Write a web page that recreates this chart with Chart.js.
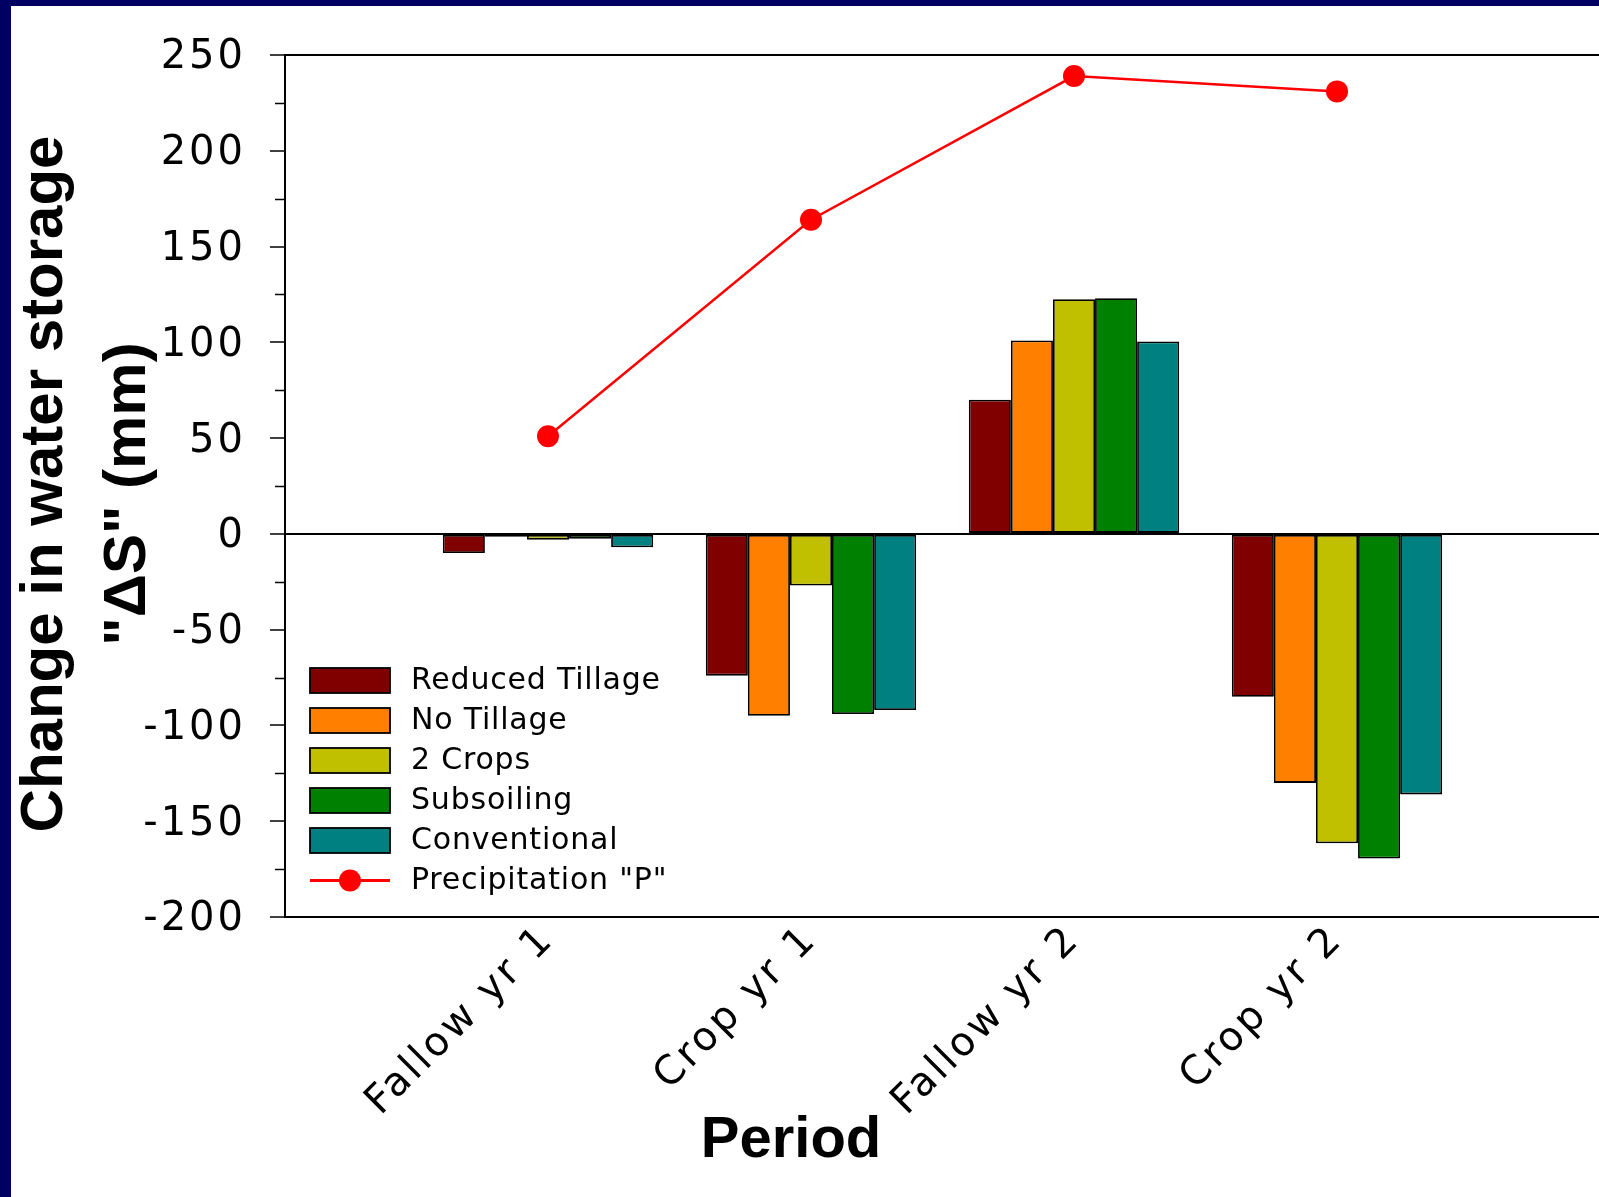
<!DOCTYPE html>
<html>
<head>
<meta charset="utf-8">
<script src="https://cdn.jsdelivr.net/npm/chart.js@4.4.0/dist/chart.umd.min.js"></script>
<style>
html,body{margin:0;padding:0;width:1599px;height:1197px;overflow:hidden;background:#000062;}
#panel{position:absolute;left:11px;top:6px;width:1588px;height:1191px;background:#ffffff;overflow:hidden;}
#wrap{position:absolute;left:0;top:0;width:1620px;height:1191px;}
</style>
</head>
<body>
<div id="panel"><div id="wrap"><canvas id="c"></canvas></div></div>
<script>
// ---- data ----
const categories = ['Fallow yr 1', 'Crop yr 1', 'Fallow yr 2', 'Crop yr 2'];
const reducedTillage = [-10, -74, 70, -85];
const noTillage = [-1.5, -95, 101, -130];
const twoCrops = [-3, -27, 122.5, -161.5];
const subsoiling = [-2.5, -94, 123, -169.5];
const conventional = [-7, -92, 100.5, -136];
const precipitation = [51, 164, 239, 231];
const yTicks = [-200, -150, -100, -50, 0, 50, 100, 150, 200, 250];
const seriesNames = ['Reduced Tillage', 'No Tillage', '2 Crops', 'Subsoiling', 'Conventional'];
const lineName = 'Precipitation "P"';
const yTitle = ['Change in water storage', '"\u0394S" (mm)'];
const xTitle = 'Period';

// ---- styles ----
const FONT = '"Liberation Sans", Arial, Helvetica, sans-serif';
const TICKFONT = '"DejaVu Sans", "Liberation Sans", Arial, sans-serif';
const seriesColors = ['#800000', '#FF8000', '#C0C000', '#008000', '#008080'];
const lineColor = '#FF0000';

const pad = a => [null, ...a, null];
const labels = ['', ...categories, ''];
const seriesValues = [reducedTillage, noTillage, twoCrops, subsoiling, conventional];

const datasets = seriesValues.map((v, i) => ({
  type: 'bar',
  label: seriesNames[i],
  data: pad(v),
  backgroundColor: seriesColors[i],
  borderColor: '#000000',
  borderWidth: 1.8,
  borderSkipped: false,
  categoryPercentage: 0.8,
  barPercentage: 1.0,
  order: 1
}));
datasets.push({
  type: 'line',
  label: lineName,
  data: pad(precipitation),
  borderColor: lineColor,
  backgroundColor: lineColor,
  borderWidth: 2.5,
  pointRadius: 11,
  pointBackgroundColor: lineColor,
  pointBorderWidth: 0,
  tension: 0,
  order: 0
});

const decor = {
  id: 'decor',
  beforeDraw(chart) {
    chart.ctx.letterSpacing = '3px';
  },
  afterDraw(chart) {
    const ctx = chart.ctx;
    const a = chart.chartArea;
    const ys = chart.scales.y;
    ctx.save();
    ctx.letterSpacing = '0px';
    // top frame line
    ctx.strokeStyle = '#000';
    ctx.lineWidth = 2;
    ctx.beginPath();
    ctx.moveTo(a.left, a.top);
    ctx.lineTo(a.right, a.top);
    ctx.stroke();
    // minor ticks
    ctx.lineWidth = 1.5;
    for (let i = 0; i < yTicks.length - 1; i++) {
      const v = (yTicks[i] + yTicks[i + 1]) / 2;
      const py = Math.round(ys.getPixelForValue(v)) + 0.5;
      ctx.beginPath();
      ctx.moveTo(a.left - 10, py);
      ctx.lineTo(a.left, py);
      ctx.stroke();
    }
    // y title
    ctx.fillStyle = '#000';
    ctx.font = 'bold 60px ' + FONT;
    ctx.textAlign = 'center';
    ctx.textBaseline = 'alphabetic';
    const cy = (a.top + a.bottom) / 2;
    ctx.save();
    ctx.translate(51, cy - 2);
    ctx.rotate(-Math.PI / 2);
    ctx.fillText(yTitle[0], 0, 0);
    ctx.restore();
    ctx.save();
    ctx.translate(134, cy + 8);
    ctx.rotate(-Math.PI / 2);
    ctx.fillText(yTitle[1], 0, 0);
    ctx.restore();
    // x title
    ctx.font = 'bold 58px ' + FONT;
    ctx.fillText(xTitle, a.left + 506, a.bottom + 240);
    // legend
    ctx.letterSpacing = '0.8px';
    ctx.font = '30px ' + TICKFONT;
    ctx.textAlign = 'left';
    ctx.textBaseline = 'middle';
    const bx = a.left + 25, bw = 80, bh = 25;
    const y0 = a.bottom - 236.5, dy = 40;
    chart.data.datasets.forEach((ds, i) => {
      const yc = y0 + i * dy;
      if (ds.type === 'bar') {
        ctx.fillStyle = ds.backgroundColor;
        ctx.fillRect(bx, yc - bh / 2, bw, bh);
        ctx.strokeStyle = '#000';
        ctx.lineWidth = 1.8;
        ctx.strokeRect(bx, yc - bh / 2, bw, bh);
      } else {
        ctx.strokeStyle = ds.borderColor;
        ctx.lineWidth = 3;
        ctx.beginPath();
        ctx.moveTo(bx, yc);
        ctx.lineTo(bx + bw, yc);
        ctx.stroke();
        ctx.fillStyle = ds.backgroundColor;
        ctx.beginPath();
        ctx.arc(bx + bw / 2, yc, 11, 0, Math.PI * 2);
        ctx.fill();
      }
      ctx.fillStyle = '#000';
      ctx.fillText(ds.label, bx + 101, yc + 1);
    });
    ctx.restore();
  }
};

new Chart(document.getElementById('c'), {
  type: 'bar',
  data: { labels, datasets },
  options: {
    responsive: true,
    maintainAspectRatio: false,
    animation: false,
    layout: { padding: { top: 49, right: 31, left: 0, bottom: 0 } },
    plugins: { legend: { display: false }, tooltip: { enabled: false } },
    scales: {
      x: {
        type: 'category',
        offset: false,
        grid: { display: false, drawTicks: false },
        border: { display: true, color: '#000', width: 2 },
        ticks: {
          autoSkip: false,
          minRotation: 45,
          maxRotation: 45,
          padding: 16,
          color: '#000',
          font: { family: TICKFONT, size: 40, lineHeight: 0.05 }
        },
        afterFit: s => { s.height = 280; }
      },
      y: {
        min: -200,
        max: 250,
        afterBuildTicks: s => { s.ticks = yTicks.map(v => ({ value: v })); },
        grid: {
          drawOnChartArea: true,
          color: c => (c.tick && c.tick.value === 0) ? '#000' : 'rgba(0,0,0,0)',
          lineWidth: c => (c.tick && c.tick.value === 0) ? 2 : 0,
          tickColor: '#000',
          tickWidth: 1.5,
          tickLength: 15
        },
        border: { display: true, color: '#000', width: 2 },
        ticks: {
          padding: 24,
          labelOffset: 3,
          color: '#000',
          font: { family: TICKFONT, size: 40 }
        },
        afterFit: s => { s.width = 274; }
      }
    }
  },
  plugins: [decor]
});
</script>
</body>
</html>
